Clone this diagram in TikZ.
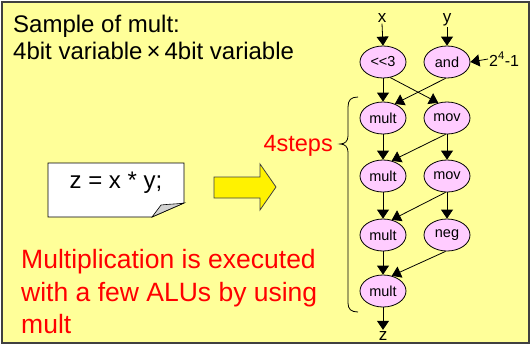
\documentclass[tikz,border=0pt]{standalone}
\usepackage{fontspec}
\setmainfont{Liberation Sans}
\usetikzlibrary{shapes.geometric,arrows.meta}
\definecolor{bgyellow}{HTML}{FFFF99}
\definecolor{opfill}{HTML}{FFCCFF}
\definecolor{framegray}{HTML}{404040}
\begin{document}
\begin{tikzpicture}[x=1pt,y=-1pt,
  op/.style={ellipse,draw=black,line width=0.8pt,fill=opfill,minimum width=46pt,minimum height=32pt,inner sep=0pt,font=\fontsize{14.5}{16}\selectfont},
  lbl/.style={inner sep=1pt,font=\fontsize{17}{19}\selectfont},
  arr/.style={line width=0.8pt,-{Triangle[length=9pt,width=12pt]}},
  redtxt/.style={text=red,anchor=base west,inner sep=0pt,font=\fontsize{26.5}{31.5}\selectfont}]
\useasboundingbox (0,0) rectangle (532,349);
% frame
\draw[fill=bgyellow,draw=framegray,line width=1.2pt] (2,2) rectangle (529,343);
% title text
\node[anchor=base west,inner sep=0pt,font=\fontsize{24}{27}\selectfont] (t1) at (13,32) {Sample of mult:};
\node[anchor=base west,inner sep=0pt,font=\fontsize{24}{27}\selectfont] (t2) at (13,59) {4bit variable\,×\,4bit variable};
% code box
\draw[fill=white,draw=black,line width=0.8pt] (48,163) -- (184,163) -- (184,203) -- (152,217) -- (48,217) -- cycle;
\draw[fill=gray!35,draw=black,line width=0.6pt] (152,217) -- (161,205) .. controls (170,204) and (178,204) .. (184,203) -- cycle;
\node[anchor=base,inner sep=0pt,font=\fontsize{24}{28}\selectfont] (code) at (116,188) {z = x * y;};
% yellow arrow
\draw[fill=yellow,draw=framegray,line width=0.8pt] (214,177) -- (260,177) -- (260,164) -- (276,187) -- (260,210) -- (260,198) -- (214,198) -- cycle;
% red text
\node[redtxt] (r1) at (21,268) {Multiplication is executed};
\node[redtxt] (r2) at (21,301) {with a few ALUs by using};
\node[redtxt] (r3) at (21,333) {mult};
% 4steps and brace
\node[anchor=base east,inner sep=0pt,text=red,font=\fontsize{23.5}{26}\selectfont] (steps) at (333,151) {4steps};
\draw[line width=0.8pt] (358,97) .. controls (351,97) and (348,100) .. (348,107) -- (348,136) .. controls (348,141) and (345,144) .. (340,144) .. controls (345,144) and (348,147) .. (348,152) -- (348,303) .. controls (348,309) and (351,312) .. (358,312);
% operations
\node[op] (s3) at (383,62) {<{}<3};
\node[op] (and) at (447,62) {and};
\node[op] (m1) at (383,118) {mult};
\node[op] (v1) at (447,118) {mov};
\node[op] (m2) at (383,176) {mult};
\node[op] (v2) at (447,176) {mov};
\node[op] (m3) at (383,235) {mult};
\node[op] (ng) at (447,235) {neg};
\node[op] (m4) at (383,291) {mult};
% labels
\node[lbl,anchor=base] (x) at (382,22.5) {x};
\node[lbl,anchor=base] (y) at (447,22.5) {y};
\node[lbl,anchor=base west,font=\fontsize{16}{18}\selectfont] (c) at (488,66) {2\textsuperscript{4}-1};
\node[lbl,anchor=base] (z) at (383,340) {z};
% arrows
\draw[arr] (x.south) -- (s3.north);
\draw[arr] (y.south) -- (and.north);
\draw[arr] (c.west) -- (and.east);
\draw[arr] (s3.south) -- (m1.north);
\draw[arr] (s3.-65) -- (v1.120);
\draw[arr] (and.-95) -- (m1.50);
\draw[arr] (m1.south) -- (m2.north);
\draw[arr] (v1.south) -- (v2.north);
\draw[arr] (v1.-95) -- (m2.60);
\draw[arr] (m2.south) -- (m3.north);
\draw[arr] (v2.south) -- (ng.north);
\draw[arr] (v2.-95) -- (m3.60);
\draw[arr] (m3.south) -- (m4.north);
\draw[arr] (ng.-95) -- (m4.60);
\draw[arr] (m4.south) -- (z.north);
\end{tikzpicture}
\end{document}
